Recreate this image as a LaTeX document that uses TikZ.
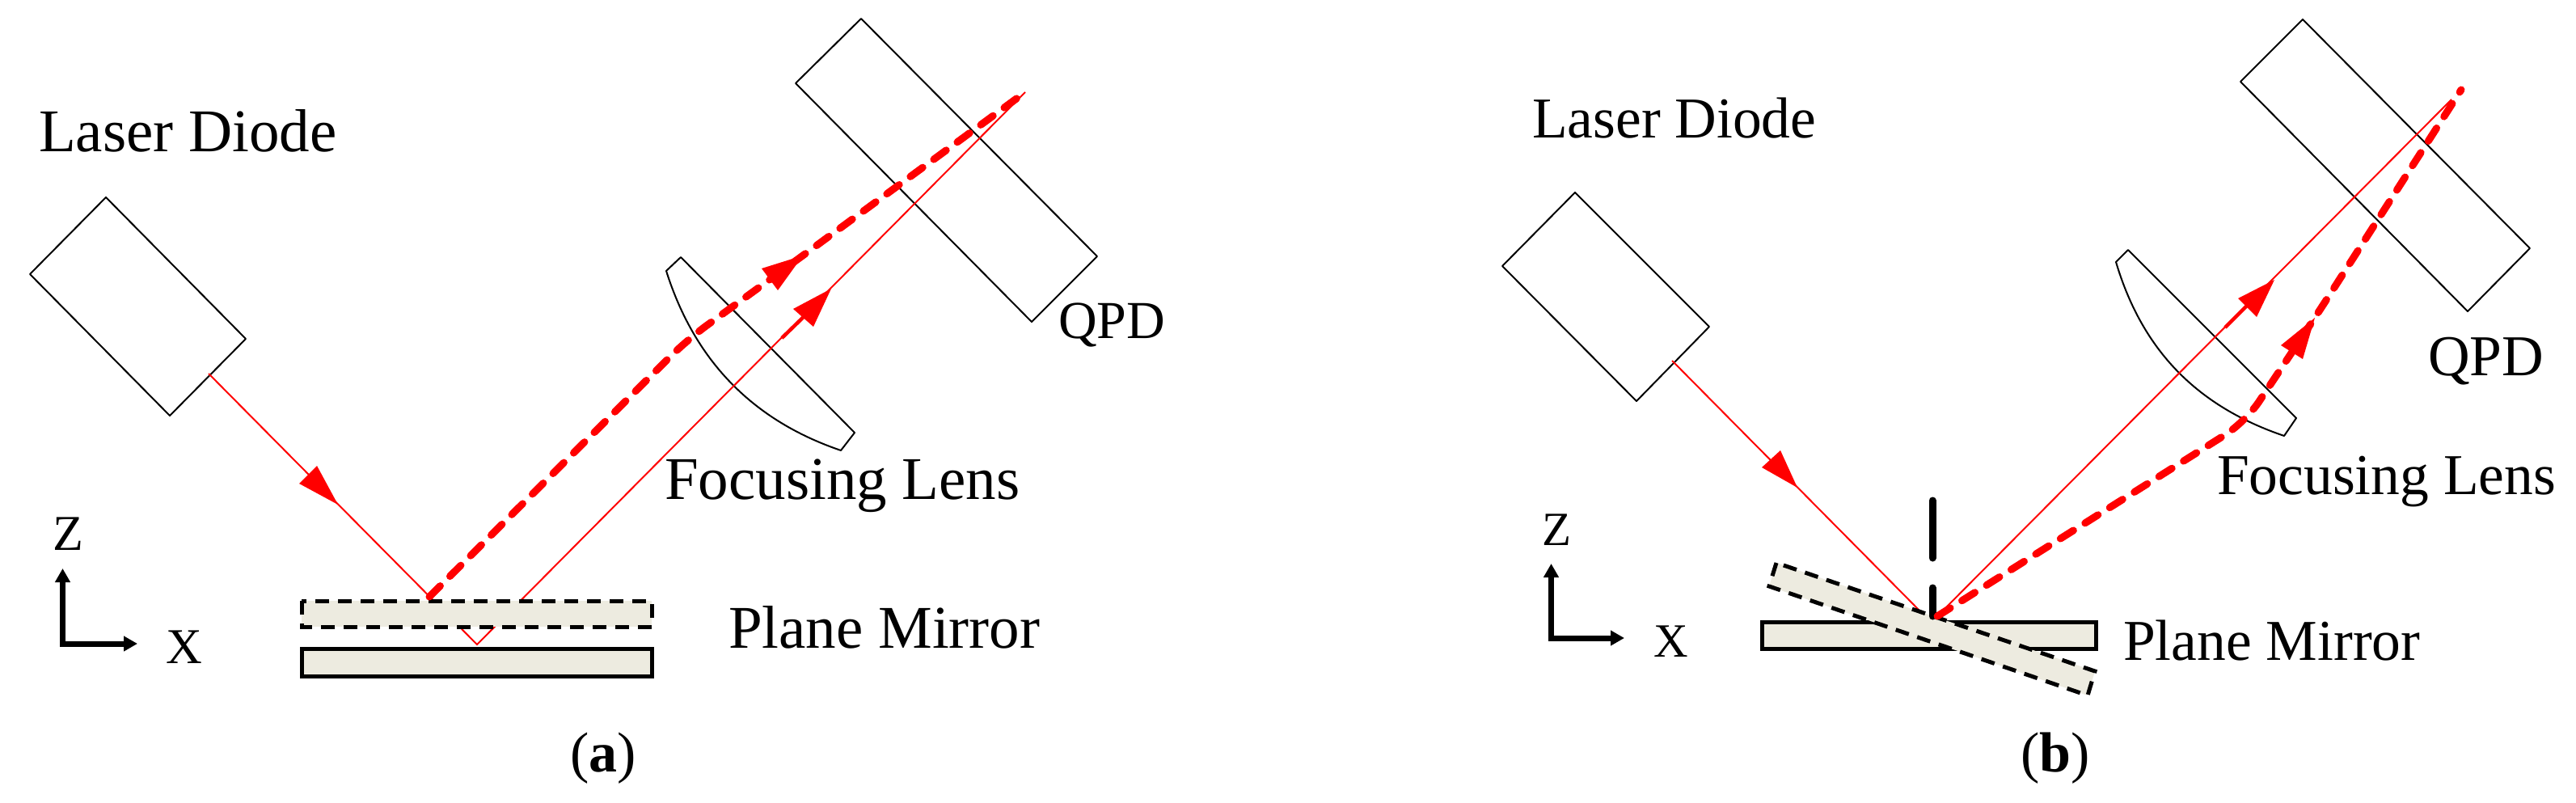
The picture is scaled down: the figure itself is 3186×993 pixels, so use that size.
\documentclass[tikz,border=0pt]{standalone}
\usepackage{fontspec}
\setmainfont{Liberation Serif}
\usetikzlibrary{arrows.meta}
\definecolor{mirrorfill}{HTML}{EDEBE0}
\tikzset{
  lbl/.style={anchor=base west,inner sep=0pt,outer sep=0pt,font=\fontsize{75}{80}\selectfont},
  lblb/.style={anchor=base west,inner sep=0pt,outer sep=0pt,font=\fontsize{71.5}{80}\selectfont},
  axl/.style={anchor=base west,inner sep=0pt,outer sep=0pt,font=\fontsize{62}{70}\selectfont},
  axlb/.style={anchor=base west,inner sep=0pt,outer sep=0pt,font=\fontsize{59}{70}\selectfont},
  capt/.style={anchor=base west,inner sep=0pt,outer sep=0pt,font=\fontsize{70}{80}\selectfont},
  outline/.style={draw=black,line width=2pt,line join=round},
  beam/.style={draw=red,line width=2pt},
  dbeam/.style={draw=red,line width=9pt,line cap=round,dash pattern=on 19pt off 17pt,rounded corners=30pt},
  head/.style={fill=red,draw=none},
  shaft/.style={draw=red,line width=4.5pt},
  mirror/.style={fill=mirrorfill,draw=black,line width=5pt,line join=miter},
  dmirror/.style={fill=mirrorfill,draw=black,line width=5pt,dash pattern=on 17pt off 11pt},
  axis/.style={draw=black,line width=7pt,-{Triangle[length=17pt,width=18pt]}},
  tilt/.style={draw=black,line width=9pt,line cap=round}
}
\begin{document}
\begin{tikzpicture}[x=1pt,y=-1pt]
\useasboundingbox (0,0) rectangle (3186,993);
% ---------- panel a
\draw[outline] (1065,23) -- (984,103) -- (1276,398) -- (1357,317) -- cycle;
\draw[outline] (131,244) -- (37,339) -- (210,514) -- (304,419) -- cycle;
\draw[outline] (842,318) -- (824,335) .. controls (859,446) and (931,520) .. (1040,557) -- (1057,535) -- cycle;
\draw[beam] (258,462) -- (590,797) -- (1268,114);
\draw[mirror] (373,802) rectangle (806,836);
\draw[dmirror] (373,743) rectangle (806,775);
\draw[dbeam] (531,738) -- (850,420) -- (993,316) -- (1268,114);
\fill[head] (418,624) -- (370,598) -- (392,576) -- cycle;
\draw[shaft] (967,418) -- (1000,386);
\fill[head] (1028,357) -- (981,382) -- (1006,404) -- cycle;
\fill[head] (993,316) -- (942,332) -- (962,359) -- cycle;
\draw[axis] (77.5,799.5) -- (77.5,703);
\draw[axis] (74,796) -- (170,796);
\node[lbl] (ldA) at (48,187) {Laser Diode};
\node[lbl] (flA) at (822,617) {Focusing Lens};
\node[lbl] (pmA) at (901,801) {Plane Mirror};
\node[lbl,font=\fontsize{66}{70}\selectfont] (qpA) at (1309,418) {QPD};
\node[axl] (zA) at (65,680) {Z};
\node[axl] (xA) at (205,820) {X};
\node[capt] (capA) at (705,954) {(\textbf{a})};
% ---------- panel b
\draw[outline] (2848,24) -- (2771,101) -- (3052,385) -- (3129,307) -- cycle;
\draw[outline] (1948,238) -- (1858,329) -- (2024,496) -- (2114,404) -- cycle;
\draw[outline] (2632,309) -- (2617,324) .. controls (2650,435) and (2719,503) .. (2825,539) -- (2840,517) -- cycle;
\draw[mirror] (2179,769) rectangle (2592,802);
\draw[beam] (2068,446) -- (2375,756);
\draw[dmirror] (2197,696) -- (2188,725) -- (2582,860) -- (2591,830) -- cycle;
\draw[tilt] (2390,619) -- (2390,690);
\draw[tilt] (2390,727) -- (2390,762);
\draw[beam] (2396,762) -- (3032,123);
\draw[dbeam] (2396,762) -- (2777,522) -- (2863,393) -- (3044,111);
\fill[head] (2223,603) -- (2179,578) -- (2202,557) -- cycle;
\draw[shaft] (2752,405) -- (2790,367);
\fill[head] (2813,346) -- (2768,369) -- (2791,392) -- cycle;
\fill[head] (2863,393) -- (2821,427) -- (2848,444) -- cycle;
\draw[axis] (1918.5,792.5) -- (1918.5,697);
\draw[axis] (1915,789) -- (2009,789);
\node[lblb] (ldB) at (1895,170) {Laser Diode};
\node[lblb] (flB) at (2742,611) {Focusing Lens};
\node[lblb] (pmB) at (2626,816) {Plane Mirror};
\node[lblb] (qpB) at (3003,464) {QPD};
\node[axlb] (zB) at (1907,674) {Z};
\node[axlb] (xB) at (2045,812) {X};
\node[capt] (capB) at (2499,954) {(\textbf{b})};
\end{tikzpicture}
\end{document}
